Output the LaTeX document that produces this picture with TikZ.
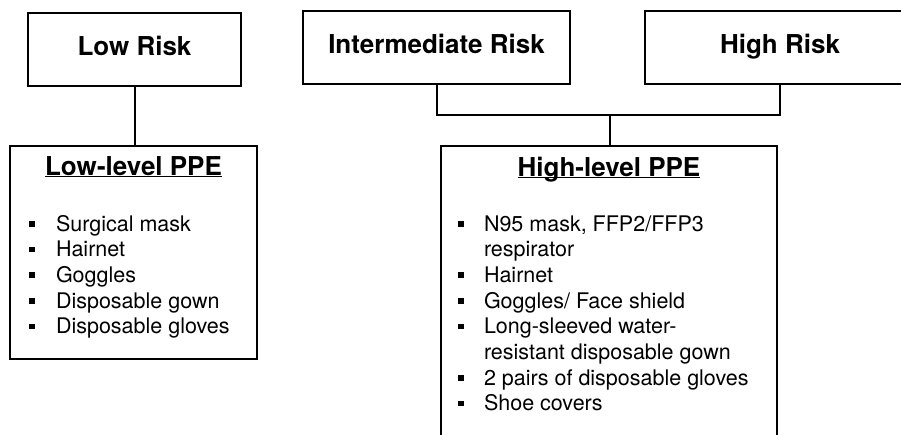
\documentclass[tikz,border=0pt]{standalone}
\usepackage{fontspec}
\setmainfont{TeX Gyre Heros}
\usepackage{tikz}
\usetikzlibrary{positioning}

\newcommand{\ppehead}[1]{\underline{\smash{#1}}}
\newcommand{\ppebullet}{\raisebox{4.5pt}{\rule{5.5pt}{5.5pt}}}

\begin{document}
\begin{tikzpicture}[x=1pt,y=-1pt,line width=2pt,
        riskbox/.style={draw,inner sep=0pt,minimum height=73pt,
            font=\fontsize{26}{30}\selectfont\bfseries,text height=18pt,text depth=7pt},
        ppebox/.style={draw,inner sep=0pt},
        ppetitle/.style={anchor=base,inner sep=0pt,font=\fontsize{26}{30}\selectfont\bfseries},
        ppelist/.style={anchor=base west,inner sep=0pt,font=\fontsize{21.5}{25.7}\selectfont}]

        \useasboundingbox (0,0) rectangle (901,434);
        \clip (0,0) rectangle (901,434);

        % risk levels
        \node[riskbox,minimum width=213pt] (lowrisk) at (134.5,49.5) {Low Risk};
        \node[riskbox,minimum width=267pt] (midrisk) at (436.5,47.5) {Intermediate Risk};
        \node[riskbox,minimum width=270pt] (highrisk) at (780,47.5) {High Risk};

        % protective equipment
        \node[ppebox,minimum width=247pt,minimum height=213pt] (lowppe) at (133.5,252.5) {};
        \node[ppebox,minimum width=336pt,minimum height=300pt] (highppe) at (609,296) {};

        \node[ppetitle] (lowtitle) at ([yshift=-30pt]lowppe.north) {\ppehead{Low-level PPE}};
        \node[ppetitle] (hightitle) at ([yshift=-31pt]highppe.north) {\ppehead{High-level PPE}};

        \node[ppelist] (lowlist) at ([xshift=19pt,yshift=-86pt]lowppe.north west)
            {\begin{tabular}[t]{@{}p{27pt}@{}l@{}}
                \ppebullet & Surgical mask\\
                \ppebullet & Hairnet\\
                \ppebullet & Goggles\\
                \ppebullet & Disposable gown\\
                \ppebullet & Disposable gloves
            \end{tabular}};
        \node[ppelist] (highlist) at ([xshift=17pt,yshift=-86pt]highppe.north west)
            {\begin{tabular}[t]{@{}p{26pt}@{}l@{}}
                \ppebullet & N95 mask, FFP2/FFP3\\
                           & respirator\\
                \ppebullet & Hairnet\\
                \ppebullet & Goggles/ Face shield\\
                \ppebullet & Long-sleeved water-\\
                           & resistant disposable gown\\
                \ppebullet & 2 pairs of disposable gloves\\
                \ppebullet & Shoe covers
            \end{tabular}};

        % connectors
        \coordinate (fork) at (610,115);
        \draw (lowrisk.south) -- (lowrisk.south |- lowppe.north);
        \draw (midrisk.south) |- (fork) -| (highrisk.south);
        \draw (fork) -- (fork |- highppe.north);
\end{tikzpicture}
\end{document}
